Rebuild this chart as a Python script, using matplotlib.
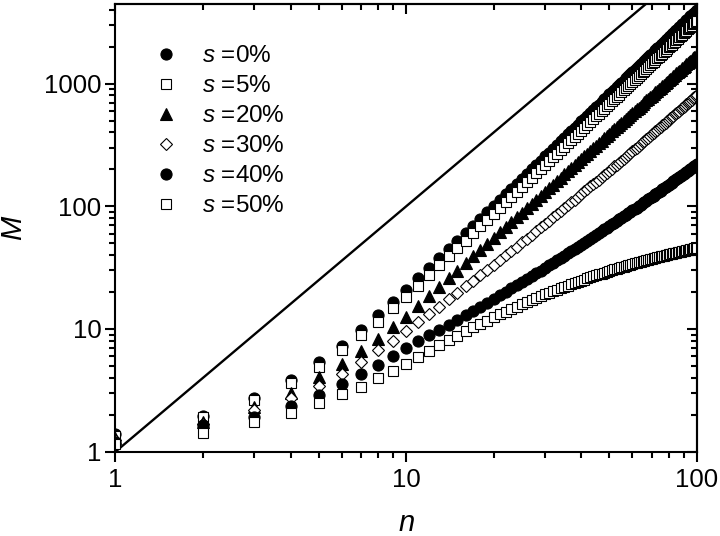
import matplotlib
matplotlib.use("Agg")
import matplotlib.pyplot as plt
from matplotlib.ticker import NullFormatter

# x axis: n = 1..100
n_values = list(range(1, 101))

# M(n) for each s
m_s0 = [1.40, 1.97, 2.73, 3.84, 5.42, 7.27, 9.9, 13.0, 16.7, 20.8,
        25.8, 31.5, 37.8, 44.8, 52.4, 60.7, 69.7, 79.5, 89.9, 101,
        113, 126, 139, 153, 168, 184, 200, 218, 236, 255,
        274, 295, 316, 339, 362, 386, 411, 436, 463, 491,
        519, 548, 579, 610, 642, 675, 709, 743, 779, 816,
        854, 892, 932, 973, 1014, 1057, 1100, 1146, 1191, 1238,
        1284, 1334, 1382, 1433, 1484, 1537, 1591, 1646, 1700, 1758,
        1816, 1874, 1934, 1995, 2058, 2120, 2184, 2250, 2315, 2383,
        2452, 2521, 2591, 2663, 2735, 2810, 2885, 2962, 3038, 3116,
        3196, 3278, 3359, 3441, 3525, 3611, 3697, 3784, 3873, 3963]

m_s5 = [1.35, 1.93, 2.62, 3.6, 4.93, 6.7, 8.94, 11.5, 14.7, 18.3,
        22.6, 27.5, 33.0, 39.0, 45.5, 52.6, 60.3, 68.7, 77.5, 87.0,
        97.2, 108, 119, 131, 144, 157, 171, 186, 201, 217,
        233, 251, 268, 287, 307, 327, 348, 368, 391, 414,
        437, 462, 487, 513, 540, 567, 595, 623, 653, 684,
        715, 746, 779, 813, 847, 882, 918, 956, 993, 1031,
        1069, 1110, 1150, 1191, 1233, 1277, 1321, 1366, 1410, 1458,
        1505, 1552, 1602, 1651, 1703, 1753, 1806, 1859, 1912, 1968,
        2024, 2080, 2137, 2196, 2254, 2315, 2376, 2439, 2500, 2564,
        2628, 2695, 2761, 2827, 2895, 2965, 3035, 3105, 3177, 3250]

m_s20 = [1.30, 1.76, 2.33, 2.99, 4.04, 5.18, 6.6, 8.24, 10.4, 12.6,
         15.4, 18.6, 22.0, 25.8, 29.9, 34.3, 39.0, 44.1, 49.5, 55.2,
         61.3, 67.9, 74.4, 81.4, 88.9, 96.8, 105, 113, 122, 131,
         140, 150, 160, 171, 182, 193, 205, 217, 229, 242,
         255, 269, 283, 297, 311, 326, 342, 357, 373, 390,
         407, 424, 441, 460, 478, 496, 515, 535, 555, 576,
         596, 617, 638, 660, 682, 705, 728, 751, 774, 799,
         824, 848, 874, 900, 926, 952, 979, 1007, 1034, 1062,
         1091, 1120, 1149, 1179, 1209, 1240, 1271, 1302, 1333, 1365,
         1398, 1432, 1465, 1498, 1532, 1568, 1602, 1638, 1674, 1710]

m_s30 = [1.25, 1.68, 2.18, 2.72, 3.43, 4.3, 5.4, 6.74, 8.03, 9.59,
         11.3, 13.2, 15.2, 17.4, 19.7, 22.2, 24.8, 27.5, 30.4, 33.4,
         36.6, 39.9, 43.3, 46.9, 50.7, 54.6, 58.7, 62.9, 67.2, 71.7,
         76.4, 81.2, 86.1, 91.3, 96.5, 102, 107.5, 113, 119, 125,
         132, 138, 145, 151, 158, 165, 172, 180, 187, 195,
         203, 211, 219, 227, 236, 245, 254, 262, 272, 281,
         291, 301, 310, 321, 331, 341, 352, 363, 374, 385,
         396, 408, 419, 431, 444, 456, 468, 481, 494, 507,
         520, 533, 547, 561, 575, 589, 603, 618, 632, 647,
         662, 678, 693, 709, 725, 741, 757, 774, 790, 807]

m_s40 = [1.20, 1.65, 1.93, 2.36, 2.9, 3.56, 4.3, 5.09, 6.03, 7.05,
         7.94, 8.87, 9.84, 10.8, 11.9, 12.9, 14.0, 15.2, 16.4, 17.6,
         18.8, 20.1, 21.4, 22.7, 24.1, 25.5, 26.9, 28.4, 29.9, 31.4,
         33.0, 34.6, 36.3, 37.9, 39.6, 41.4, 43.1, 44.9, 46.7, 48.6,
         50.5, 52.4, 54.4, 56.4, 58.4, 60.5, 62.5, 64.7, 66.8, 69.0,
         71.2, 73.5, 75.8, 78.1, 80.4, 82.8, 85.2, 87.6, 90.1, 92.6,
         95.2, 97.7, 100.3, 103.0, 105.6, 108.3, 111.1, 114.0, 116.7, 119.5,
         122.4, 125.3, 128.2, 131.2, 134.3, 137.2, 140.3, 143.4, 146.5, 149.6,
         152.9, 156.1, 159.3, 162.7, 166.0, 169.3, 172.7, 176.2, 179.6, 183.1,
         186.6, 190.1, 193.8, 197.4, 201.0, 204.8, 208.5, 212.2, 216.0, 219.8]

m_s50 = [1.15, 1.43, 1.76, 2.08, 2.5, 2.94, 3.39, 3.96, 4.57, 5.15,
         5.88, 6.62, 7.36, 8.09, 8.83, 9.57, 10.3, 11.0, 11.7, 12.5,
         13.2, 13.8, 14.5, 15.2, 15.9, 16.5, 17.2, 17.8, 18.4, 19.1,
         19.7, 20.3, 20.9, 21.4, 22.0, 22.6, 23.1, 23.7, 24.2, 24.8,
         25.3, 25.8, 26.3, 26.8, 27.3, 27.8, 28.3, 28.7, 29.2, 29.7,
         30.1, 30.6, 31.0, 31.4, 31.8, 32.3, 32.7, 33.1, 33.5, 33.9,
         34.2, 34.6, 35.0, 35.4, 35.7, 36.1, 36.5, 36.8, 37.1, 37.5,
         37.8, 38.1, 38.5, 38.8, 39.1, 39.4, 39.7, 40.0, 40.3, 40.6,
         40.9, 41.2, 41.5, 41.8, 42.0, 42.3, 42.6, 42.8, 43.1, 43.3,
         43.6, 43.8, 44.1, 44.3, 44.6, 44.8, 45.0, 45.3, 45.5, 45.7]

series_labels = ["$s$ =0%", "$s$ =5%", "$s$ =20%", "$s$ =30%", "$s$ =40%", "$s$ =50%"]

# upper bound line M = n^2
line_n = [1, 100]
line_m = [1, 10000]

x_ticks = [1, 10, 100]
x_tick_labels = ["1", "10", "100"]
y_ticks = [1, 10, 100, 1000]
y_tick_labels = ["1", "10", "100", "1000"]


def make_plot(out_file="out.png"):
    plt.rcParams["font.family"] = ["Liberation Sans", "DejaVu Sans"]
    plt.rcParams["mathtext.fontset"] = "custom"
    plt.rcParams["mathtext.it"] = "Liberation Sans:italic"
    plt.rcParams["mathtext.rm"] = "Liberation Sans"

    fig = plt.figure(figsize=(7.2, 5.36), dpi=100)
    ax = fig.add_axes([0.1604, 0.1573, 0.8076, 0.8352])

    # marker style per series: (marker, size, face)
    styles = [("o", 8.0, "black"), ("s", 7.0, "white"), ("^", 8.4, "black"),
              ("D", 6.6, "white"), ("o", 8.0, "black"), ("s", 7.0, "white")]
    all_series = [m_s0, m_s5, m_s20, m_s30, m_s40, m_s50]

    ax.plot(line_n, line_m, color="black", lw=1.7, zorder=1)

    for m_vals, (mk, ms, fc), lab in zip(all_series, styles, series_labels):
        ax.plot(n_values, m_vals, linestyle="none", marker=mk, markersize=ms,
                markerfacecolor=fc, markeredgecolor="black", markeredgewidth=0.8,
                label=lab, zorder=2)

    ax.set_xscale("log")
    ax.set_yscale("log")
    ax.set_xlim(1, 100)
    ax.set_ylim(1, 4450)

    ax.set_xticks(x_ticks, labels=x_tick_labels)
    ax.set_yticks(y_ticks, labels=y_tick_labels)
    ax.xaxis.set_minor_formatter(NullFormatter())
    ax.yaxis.set_minor_formatter(NullFormatter())
    ax.tick_params(which="both", direction="out", width=1.5, labelsize=18.5)
    ax.tick_params(which="major", length=7)
    ax.tick_params(which="minor", length=4.5)
    ax.tick_params(axis="x", pad=5)
    ax.tick_params(axis="y", pad=3)

    # top and right ticks point inwards
    top = ax.secondary_xaxis("top")
    top.tick_params(which="both", direction="in", width=1.5, labeltop=False)
    top.tick_params(which="major", length=7)
    top.tick_params(which="minor", length=4.5)
    right = ax.secondary_yaxis("right")
    right.tick_params(which="both", direction="in", width=1.5, labelright=False)
    right.tick_params(which="major", length=7)
    right.tick_params(which="minor", length=4.5)

    for sp in ax.spines.values():
        sp.set_linewidth(1.5)
    top.spines["top"].set_linewidth(1.5)
    right.spines["right"].set_linewidth(1.5)

    ax.set_xlabel("n", fontstyle="italic", fontsize=21, labelpad=12)
    ax.set_ylabel("M", fontstyle="italic", fontsize=21, labelpad=12)

    ax.legend(loc="upper left", bbox_to_anchor=(0.066, 0.908), frameon=False,
              fontsize=17.5, handlelength=1.0, handletextpad=1.0,
              labelspacing=0.33, borderpad=0, borderaxespad=0, numpoints=1)

    fig.savefig(out_file, dpi=100)
    print("saved", out_file)


if __name__ == "__main__":
    make_plot()
